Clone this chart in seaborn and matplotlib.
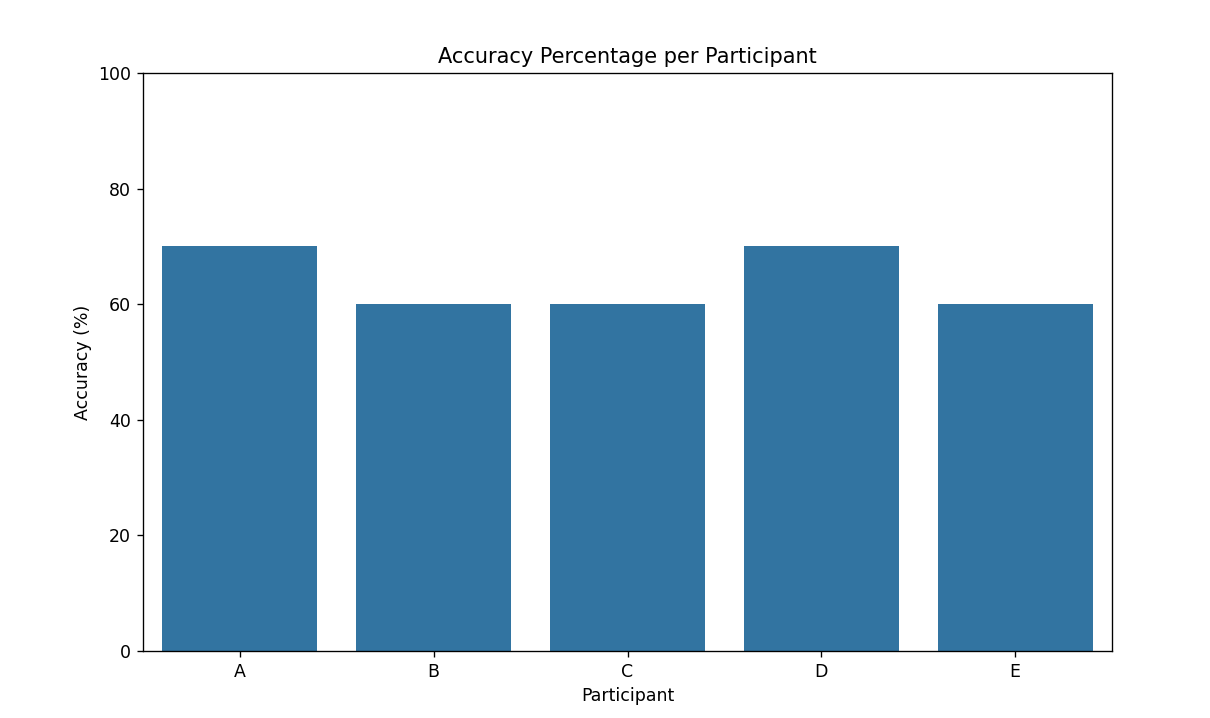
import matplotlib
matplotlib.use("Agg")
import matplotlib.pyplot as plt
import seaborn as sns
import pandas as pd

participants = ["A", "B", "C", "D", "E"]
accuracy = [70, 60, 60, 70, 60]

df = pd.DataFrame({"Participant": participants, "Accuracy": accuracy})

plt.rcParams["font.size"] = 10.35

fig = plt.figure(figsize=(10, 718 / 121), dpi=121)
ax = fig.add_axes([143 / 1210, 1 - 651 / 718, (1112 - 143) / 1210, (651 - 73) / 718])

sns.barplot(data=df, x="Participant", y="Accuracy", color="#1f77b4", ax=ax)

ax.set_ylim(0, 100)
ax.set_title("Accuracy Percentage per Participant", fontsize=12.4)
ax.set_xlabel("Participant")
ax.set_ylabel("Accuracy (%)")

fig.savefig("out.png", dpi=121)
